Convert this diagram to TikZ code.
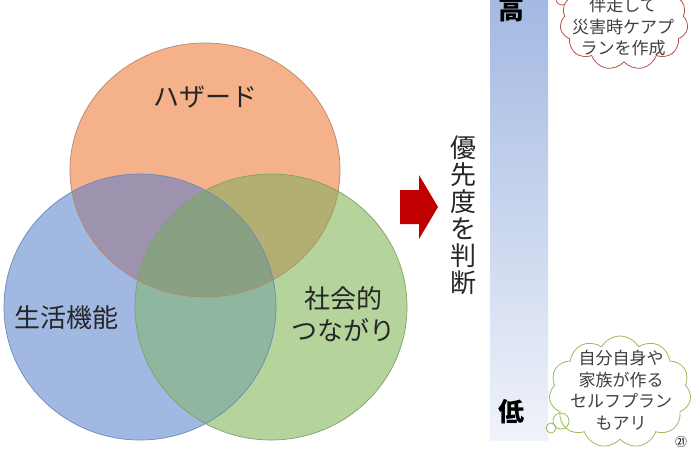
\documentclass[tikz,border=0pt]{standalone}
\usepackage{fontspec}
\setmainfont{Noto Sans CJK JP}
\usetikzlibrary{shapes.symbols}
\definecolor{cOr}{HTML}{F4B18A}
\definecolor{cBl}{HTML}{A1B8E2}
\definecolor{cGr}{HTML}{B4D49C}
\definecolor{cOB}{HTML}{9D93AE}
\definecolor{cOG}{HTML}{B3AF72}
\definecolor{cBG}{HTML}{8FB69E}
\definecolor{cAll}{HTML}{88A182}
\definecolor{lOr}{HTML}{B88868}
\definecolor{lBl}{HTML}{7088B8}
\definecolor{lGr}{HTML}{80A068}
\definecolor{arrRed}{HTML}{C00000}
\definecolor{barTop}{HTML}{A3B9E2}
\definecolor{barBot}{HTML}{F0F3FA}
\definecolor{cloudRed}{HTML}{C0504D}
\definecolor{cloudGreen}{HTML}{9BBB59}
\tikzset{
  vlabel/.style={font=\fontsize{26}{32}\selectfont, text=black!85, align=center, inner sep=0pt},
  cloudtext/.style={font=\fontsize{17}{21.5}\selectfont, text=black!75, align=center, inner sep=0pt},
  bubble/.style={cloud, cloud puffs=11, cloud puff arc=120, fill=white, line width=0.8pt, inner sep=0pt},
  hilo/.style={font=\fontsize{26}{26}\selectfont\bfseries, inner sep=0pt}
}
\def\hazE{(205,170) ellipse [x radius=135pt, y radius=127pt]}
\def\lifeE{(140,307) ellipse [x radius=136pt, y radius=133pt]}
\def\socE{(271,307) ellipse [x radius=136pt, y radius=133pt]}
\begin{document}
\begin{tikzpicture}[x=1pt,y=-1pt]
\useasboundingbox (0,0) rectangle (700,450);
\fill[white] (0,0) rectangle (700,450);
% Venn
\fill[cOr] \hazE;
\fill[cBl] \lifeE;
\fill[cGr] \socE;
\begin{scope}\clip \hazE; \fill[cOB] \lifeE; \fill[cOG] \socE; \end{scope}
\begin{scope}\clip \lifeE; \fill[cBG] \socE; \end{scope}
\begin{scope}\clip \hazE; \clip \lifeE; \fill[cAll] \socE; \end{scope}
\draw[lOr, line width=0.7pt] \hazE;
\draw[lBl, line width=0.7pt] \lifeE;
\draw[lGr, line width=0.7pt] \socE;
\node[vlabel] (haz) at (205,97) {ハザード};
\node[vlabel] (life) at (66,318) {生活機能};
\node[vlabel] (soc) at (343,314) {社会的\\つながり};
% arrow
\fill[arrRed] (400,190) -- (419,190) -- (419,175) -- (438,207) -- (419,239) -- (419,224) -- (400,224) -- cycle;
\node[font=\fontsize{26}{27}\selectfont, align=center, text=black!85, inner sep=0pt] (prio) at (463,215) {優\\先\\度\\を\\判\\断};
% bar
\shade[top color=barTop, bottom color=barBot] (490,0) rectangle (548,440);
\node[hilo] (hi) at (511,10) {高};
\node[hilo] (lo) at (511,412) {低};
% top cloud
\draw[cloudRed, fill=white, line width=0.8pt] (562,-1) circle [radius=6pt];
\node[bubble, draw=cloudRed, minimum width=128pt, minimum height=96pt] (c1) at (624,22) {};
\node[cloudtext] (t1) at (623,27) {伴走して\\災害時ケアプ\\ランを作成};
% bottom cloud
\node[bubble, draw=cloudGreen, minimum width=142pt, minimum height=112pt] (c2) at (620,392) {};
\draw[cloudGreen, line width=0.8pt] (561,421) circle [radius=8pt];
\draw[cloudGreen, line width=0.8pt] (551,428) circle [radius=5pt];
\node[cloudtext] (t2) at (621,390) {自分自身や\\家族が作る\\セルフプラン\\もアリ};
\node[font=\fontsize{12}{12}\selectfont, inner sep=0pt] (pg) at (681,442) {㉑};
\end{tikzpicture}
\end{document}
